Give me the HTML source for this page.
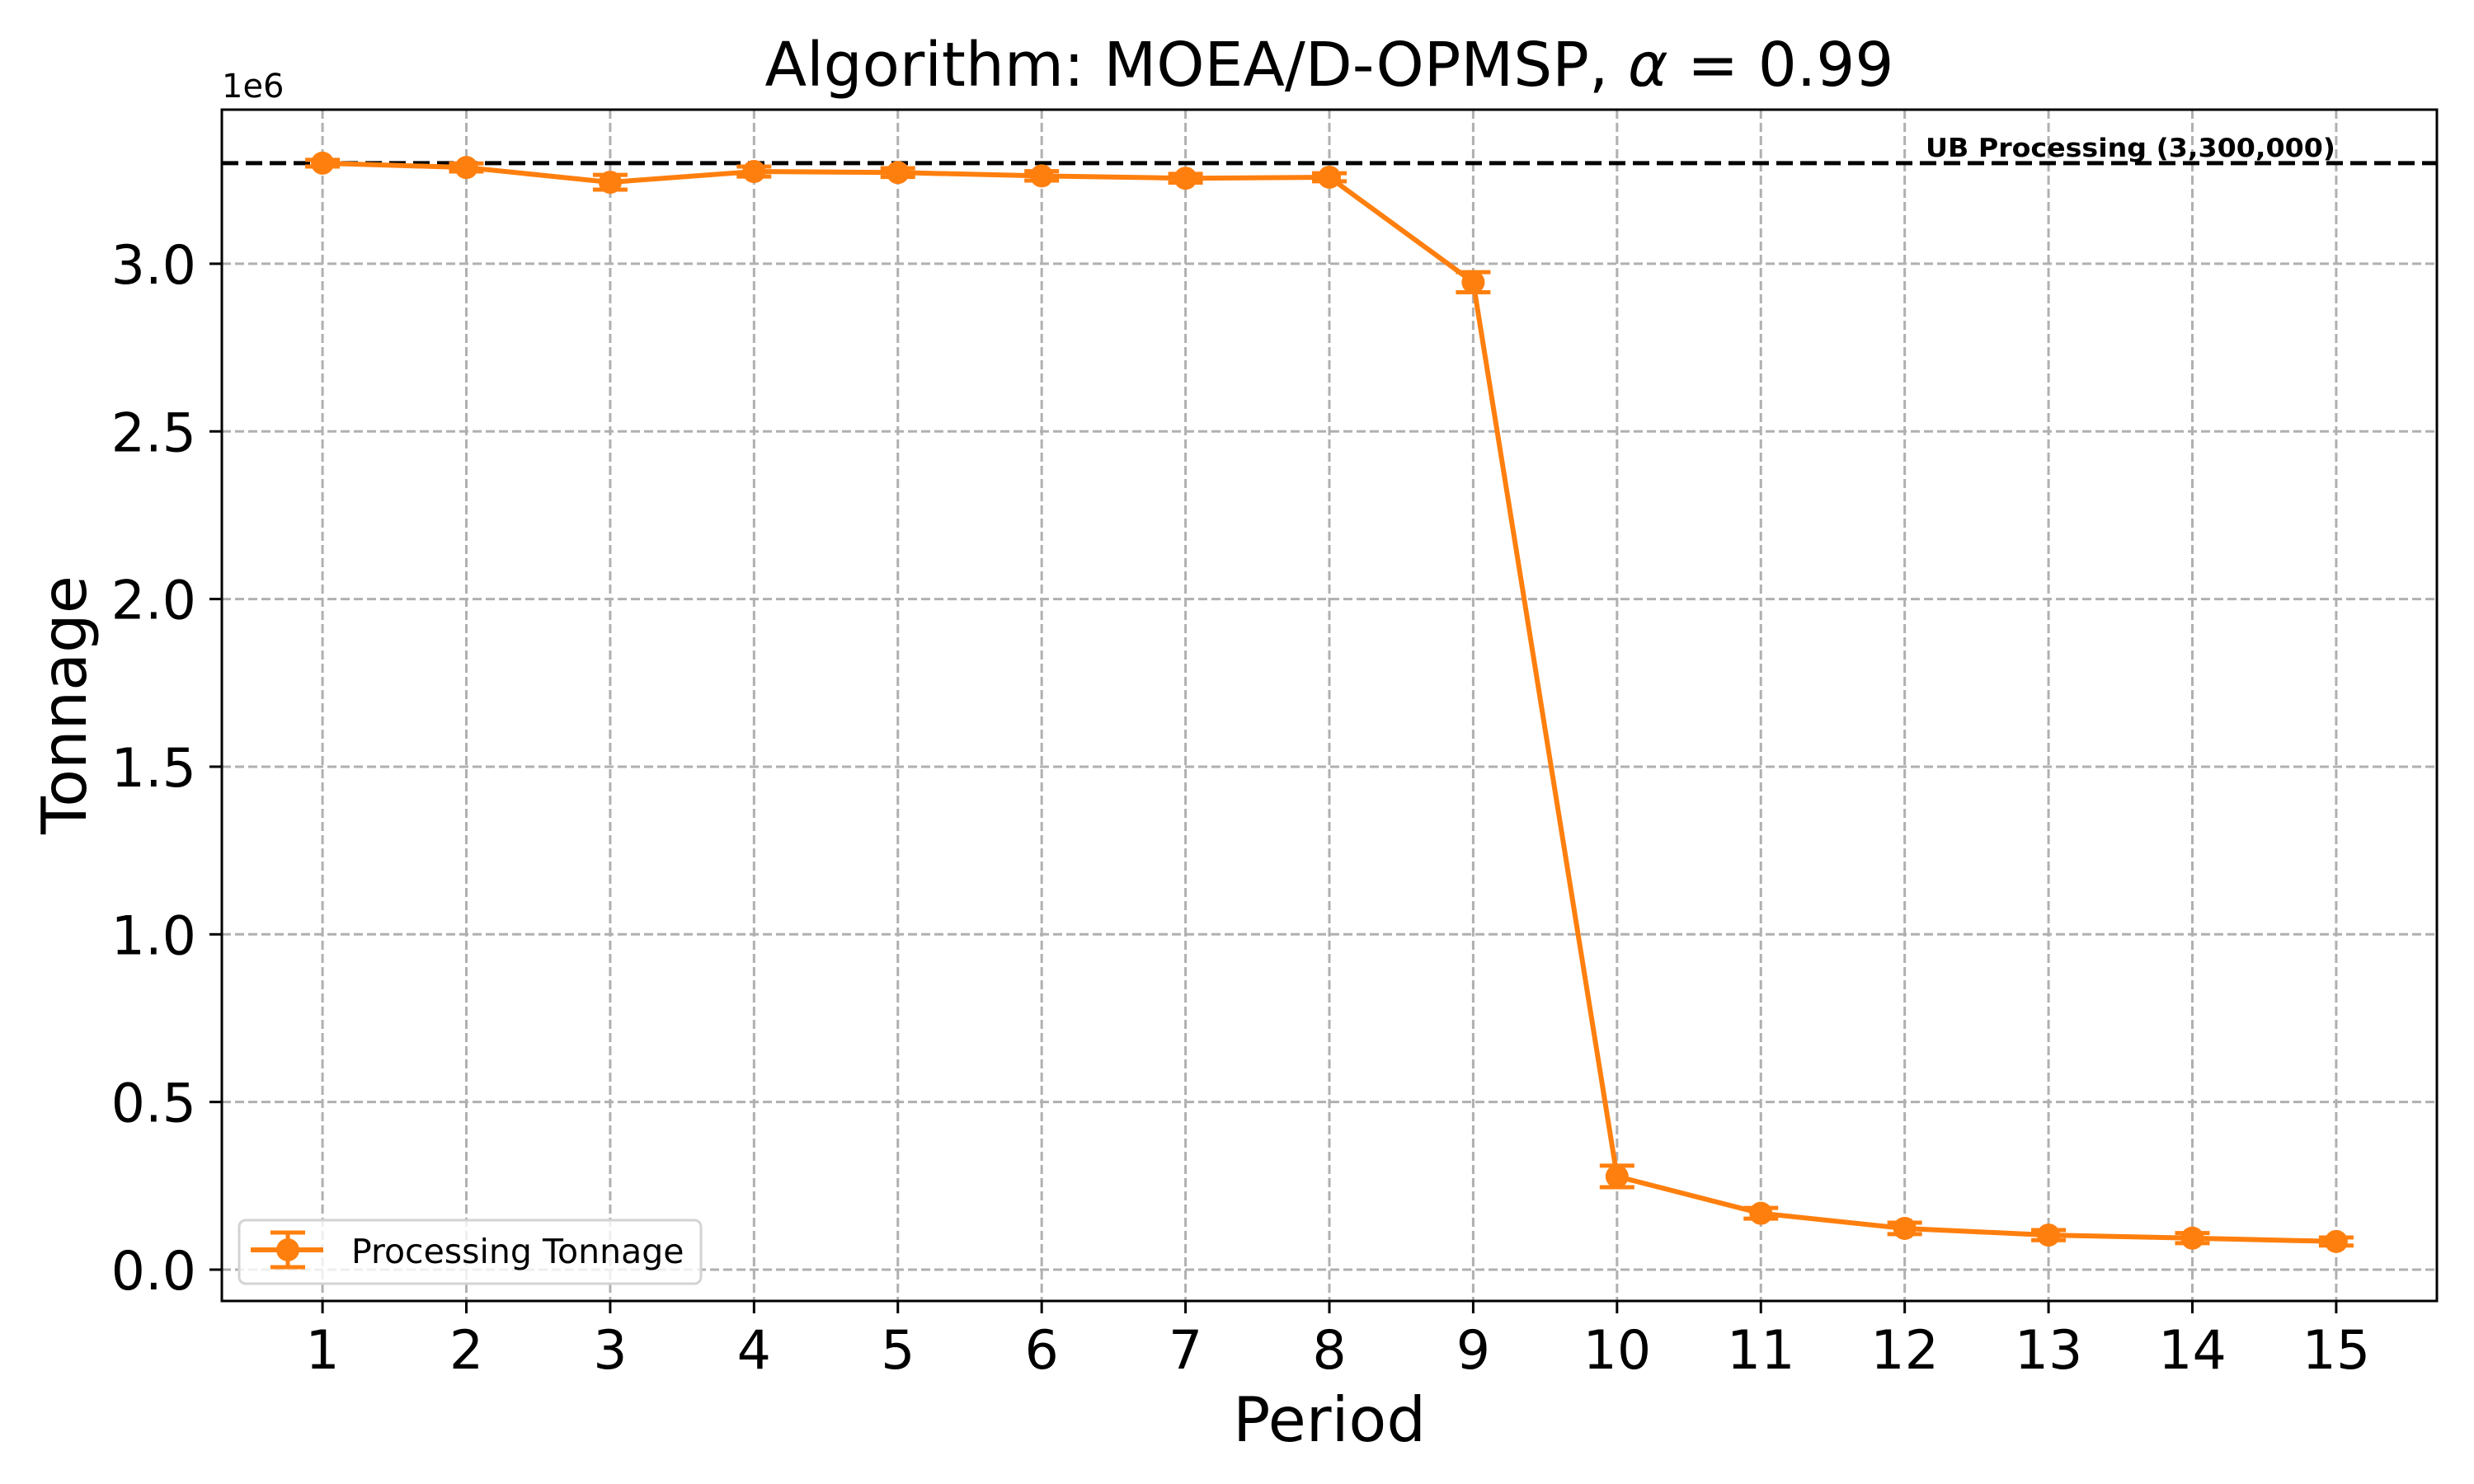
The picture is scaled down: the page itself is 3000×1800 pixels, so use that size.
<!DOCTYPE html>
<html><head><meta charset="utf-8"><style>
html,body{margin:0;padding:0;background:#fff;}
svg{display:block;font-family:"DejaVu Sans","Liberation Sans",sans-serif;}
</style></head><body>
<svg id="chart" width="3000" height="1800" viewBox="0 0 3000 1800">
<rect x="0" y="0" width="3000" height="1800" fill="#fff"/>
<g id="grid"></g>
<g id="ub"></g>
<g id="series"></g>
<rect x="269" y="133" width="2686" height="1445" fill="none" stroke="#000" stroke-width="3"/>
<g id="xticks"></g>
<g id="yticks"></g>
<text x="1612" y="104" font-size="74" text-anchor="middle">Algorithm: MOEA/D-OPMSP, <tspan font-style="italic">α</tspan> = 0.99</text>
<text x="1612" y="1748" font-size="75" text-anchor="middle">Period</text>
<text x="0" y="0" font-size="75" text-anchor="middle" transform="translate(104,855) rotate(-90)">Tonnage</text>
<text x="269" y="118" font-size="40">1e6</text>
<g>
<rect x="290" y="1480" width="560" height="77" rx="8" fill="#fff" fill-opacity="0.8" stroke="#d3d3d3" stroke-width="3"/>
<line x1="304" y1="1516" x2="392" y2="1516" stroke="#ff7f0e" stroke-width="6"/>
<line x1="349" y1="1495" x2="349" y2="1537" stroke="#ff7f0e" stroke-width="5"/>
<line x1="328" y1="1495" x2="370" y2="1495" stroke="#ff7f0e" stroke-width="5"/>
<line x1="328" y1="1537" x2="370" y2="1537" stroke="#ff7f0e" stroke-width="5"/>
<circle cx="349" cy="1516" r="14" fill="#ff7f0e"/>
<text x="426" y="1532" font-size="41">Processing Tonnage</text>
</g>
</svg>
<script>
const periods = [1,2,3,4,5,6,7,8,9,10,11,12,13,14,15];
const tonnage = [3.300e6,3.287e6,3.243e6,3.275e6,3.272e6,3.262e6,3.255e6,3.258e6,2.945e6,0.278e6,0.168e6,0.123e6,0.103e6,0.094e6,0.084e6];
const errors = [0.010e6,0.012e6,0.022e6,0.015e6,0.013e6,0.014e6,0.013e6,0.012e6,0.030e6,0.032e6,0.016e6,0.017e6,0.015e6,0.015e6,0.012e6];
const yTicks = [0,0.5e6,1.0e6,1.5e6,2.0e6,2.5e6,3.0e6];
const yTickLabels = ["0.0","0.5","1.0","1.5","2.0","2.5","3.0"];
const ubValue = 3300000;
const ubLabel = "UB Processing (3,300,000)";

const NS="http://www.w3.org/2000/svg";
const L=269,R=2955,T=133,B=1578;
const xMin=0.3,xMax=15.7;
const y0px=1540, pxPerUnit=406.7/1e6;
function xs(v){return L+(v-xMin)/(xMax-xMin)*(R-L);}
function ys(v){return y0px-v*pxPerUnit;}
function mk(tag,attrs,parent){const e=document.createElementNS(NS,tag);for(const k in attrs)e.setAttribute(k,attrs[k]);parent.appendChild(e);return e;}

const grid=document.getElementById('grid');
const xt=document.getElementById('xticks');
const yt=document.getElementById('yticks');
periods.forEach(p=>{
  const x=xs(p);
  const g=mk('line',{x1:x,y1:T,x2:x,y2:B,stroke:'#b0b0b0','stroke-width':3,'stroke-dasharray':'11,5'},grid);
  
  
  const t=mk('line',{x1:x,y1:B,x2:x,y2:B+15,stroke:'#000','stroke-width':3},xt);
  
  
  const lb=mk('text',{x:x,y:1660,'font-size':65,'text-anchor':'middle'},xt);
  lb.textContent=String(p);
  
  
});
yTicks.forEach((v,i)=>{
  const y=ys(v);
  const g=mk('line',{x1:L,y1:y,x2:R,y2:y,stroke:'#b0b0b0','stroke-width':3,'stroke-dasharray':'11,5'},grid);
  
  
  const t=mk('line',{x1:L-15,y1:y,x2:L,y2:y,stroke:'#000','stroke-width':3},yt);
  
  
  const lb=mk('text',{x:238,y:y+24,'font-size':65,'text-anchor':'end'},yt);
  lb.textContent=yTickLabels[i];
  
  
});

const ub=document.getElementById('ub');
const uy=ys(ubValue);
const ul=mk('line',{x1:L,y1:uy,x2:R,y2:uy,stroke:'#000','stroke-width':5,'stroke-dasharray':'20,9'},ub);


const ut=mk('text',{x:2832,y:uy-8,'font-size':31,'font-weight':'bold','text-anchor':'end',textLength:497,lengthAdjust:'spacingAndGlyphs'},ub);
ut.textContent=ubLabel;



const s=document.getElementById('series');
const pts=periods.map((p,i)=>xs(p)+','+ys(tonnage[i])).join(' ');
const pl=mk('polyline',{points:pts,fill:'none',stroke:'#ff7f0e','stroke-width':6,'stroke-linejoin':'round'},s);


periods.forEach((p,i)=>{
  const x=xs(p),y1=ys(tonnage[i]+errors[i]),y2=ys(tonnage[i]-errors[i]);
  const e=mk('line',{x1:x,y1:y1,x2:x,y2:y2,stroke:'#ff7f0e','stroke-width':5},s);
  
  
  [y1,y2].forEach(yy=>{
    const c=mk('line',{x1:x-21,y1:yy,x2:x+21,y2:yy,stroke:'#ff7f0e','stroke-width':5},s);
    
    
  });
  const m=mk('circle',{cx:x,cy:ys(tonnage[i]),r:14,fill:'#ff7f0e'},s);
  
  
});
</script>
</body></html>
